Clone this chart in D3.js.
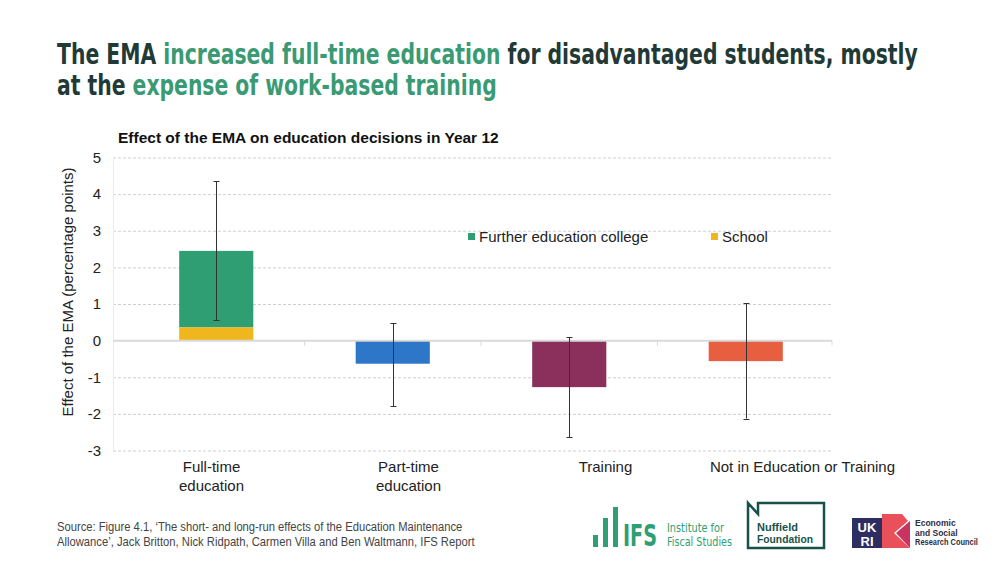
<!DOCTYPE html>
<html><head><meta charset="utf-8">
<script src="https://cdn.jsdelivr.net/npm/d3@7"></script>
<style>body{margin:0;background:#fff}svg{display:block}</style>
</head><body><svg id="c" width="1000" height="562"></svg>
<script>
const categories = ["Full-time education","Part-time education","Training","Not in Education or Training"];
const categoryLines = [["Full-time","education"],["Part-time","education"],["Training"],["Not in Education or Training"]];
const schoolValues = [0.36, 0, 0, 0];
const mainValues = [2.09, -0.63, -1.27, -0.56];
const errLow = [0.55, -1.79, -2.64, -2.13];
const errHigh = [4.35, 0.48, 0.10, 1.02];
const yTicks = [5,4,3,2,1,0,-1,-2,-3];
const legendLabels = ["Further education college","School"];
const barColors = ["#2f9e72","#2d76c8","#8b2f5d","#e85e40"];
const schoolColor = "#f0b61e";

const svg = d3.select("#c");
const y = d3.scaleLinear().domain([-3,5]).range([450.5,157.5]);
const xBar = d3.scaleBand().domain(categories).range([128,834]).paddingInner(0.58).paddingOuter(0.29);
const xLab = d3.scaleBand().domain(categories).range([113,901]);
const gridL = 113, gridR = 832;
const SANS = "'Liberation Sans',Arial,sans-serif";
const COND = "'DejaVu Sans Condensed','Liberation Sans',sans-serif";

function fit(sel, x, yb, width){
  const w = sel.node().getComputedTextLength();
  const k = Math.min(1, width / w);
  sel.attr("x",0).attr("y",0).attr("transform",`translate(${x},${yb}) scale(${k},1)`);
  return sel;
}

// Title
const t1 = svg.append("text").attr("font-family",COND).attr("font-size",28).attr("font-weight","bold");
[["The EMA ","#1f3a37"],["increased full-time education ","#3a9a73"],["for disadvantaged students, mostly","#1f3a37"]]
  .forEach(([s,c])=>t1.append("tspan").attr("fill",c).text(s));
fit(t1,57,64,861);
const t2 = svg.append("text").attr("font-family",COND).attr("font-size",28).attr("font-weight","bold");
[["at the ","#1f3a37"],["expense of work-based training","#3a9a73"]]
  .forEach(([s,c])=>t2.append("tspan").attr("fill",c).text(s));
fit(t2,57,95,440);

// chart title
svg.append("text").attr("x",118).attr("y",143).attr("font-family",SANS)
  .attr("font-size",15.5).attr("font-weight","bold").attr("fill","#111").text("Effect of the EMA on education decisions in Year 12");

// gridlines
svg.append("g").selectAll("line").data(yTicks.filter(d=>d!==0)).join("line")
  .attr("x1",gridL).attr("x2",gridR).attr("y1",d=>y(d)+0.5).attr("y2",d=>y(d)+0.5)
  .attr("stroke","#cfcfcf").attr("stroke-width",1).attr("stroke-dasharray","3,2");

// y axis
const yAxis = d3.axisLeft(y).tickValues(yTicks).tickSize(0).tickPadding(12).tickFormat(d=>String(d));
const ya = svg.append("g").attr("transform",`translate(${gridL},0)`).call(yAxis);
ya.select(".domain").attr("stroke","#ececec");
ya.selectAll("text").attr("font-family",SANS).attr("font-size",15).attr("fill","#222");

svg.append("text").attr("transform","translate(73,292) rotate(-90)").attr("text-anchor","middle")
  .attr("font-family",SANS).attr("font-size",15).attr("fill","#222")
  .text("Effect of the EMA (percentage points)");

// bars
const bw = xBar.bandwidth();
svg.append("g").selectAll("rect").data(categories).join("rect")
  .attr("x",d=>xBar(d)).attr("width",bw)
  .attr("y",(d,i)=> mainValues[i]>=0 ? y(schoolValues[i]+mainValues[i]) : y(0))
  .attr("height",(d,i)=> Math.abs(y(schoolValues[i]+mainValues[i]) - y(schoolValues[i])))
  .attr("fill",(d,i)=>barColors[i]);
svg.append("g").selectAll("rect").data(categories.filter((d,i)=>schoolValues[i]>0)).join("rect")
  .attr("x",d=>xBar(d)).attr("width",bw)
  .attr("y",d=>y(schoolValues[categories.indexOf(d)])).attr("height",d=>y(0)-y(schoolValues[categories.indexOf(d)]))
  .attr("fill",schoolColor);

// zero axis line + category boundary ticks
svg.append("line").attr("x1",gridL).attr("x2",gridR).attr("y1",y(0)).attr("y2",y(0)).attr("stroke","#d9d9d9").attr("stroke-width",2);
svg.append("g").selectAll("line").data(categories).join("line")
  .attr("x1",d=>Math.min(gridR,xBar(d)+bw/2+xBar.step()/2)).attr("x2",d=>Math.min(gridR,xBar(d)+bw/2+xBar.step()/2))
  .attr("y1",y(0)).attr("y2",y(0)+5).attr("stroke","#d9d9d9");

// error bars
const eg = svg.append("g").attr("stroke","#333").attr("stroke-width",1);
categories.forEach((d,i)=>{
  const cx = Math.round(xBar(d)+bw/2)+0.5;
  eg.append("line").attr("x1",cx).attr("x2",cx).attr("y1",y(errHigh[i])).attr("y2",y(errLow[i]));
  [errHigh[i],errLow[i]].forEach(v=>eg.append("line").attr("x1",cx-3).attr("x2",cx+3).attr("y1",Math.round(y(v))+0.5).attr("y2",Math.round(y(v))+0.5));
});

// x labels
const xl = svg.append("g").attr("font-family",SANS).attr("font-size",15).attr("fill","#222").attr("text-anchor","middle");
categories.forEach((d,i)=>{
  const tx = xl.append("text").attr("x",xLab(d)+xLab.bandwidth()/2).attr("y",472);
  categoryLines[i].forEach((l,j)=>tx.append("tspan").attr("x",xLab(d)+xLab.bandwidth()/2).attr("dy",j?19:0).text(l));
});

// legend
const lg = svg.append("g").attr("font-family",SANS).attr("font-size",15).attr("fill","#222");
[[468,legendLabels[0],barColors[0]],[711,legendLabels[1],schoolColor]].forEach(([lx,t,c])=>{
  lg.append("rect").attr("x",lx).attr("y",233).attr("width",7).attr("height",7).attr("fill",c);
  lg.append("text").attr("x",lx+11).attr("y",242).text(t);
});

// source
const s1 = svg.append("text").attr("font-family",SANS).attr("font-size",12.5).attr("fill","#444")
  .text("Source: Figure 4.1, \u2018The short- and long-run effects of the Education Maintenance");
fit(s1,57,531,406);
const s2 = svg.append("text").attr("font-family",SANS).attr("font-size",12.5).attr("fill","#444")
  .text("Allowance\u2019, Jack Britton, Nick Ridpath, Carmen Villa and Ben Waltmann, IFS Report");
fit(s2,57,546,418);

// IFS logo
const ifsG = "#2f9e72";
const logo = svg.append("g");
[[593,535],[603,518],[613,507]].forEach(([bx,by])=>logo.append("rect").attr("x",bx).attr("y",by).attr("width",5).attr("height",547-by).attr("fill",ifsG));
fit(logo.append("text").attr("font-family",COND).attr("font-weight","bold").attr("font-size",30).attr("fill",ifsG).text("IFS"),623,546,34);
fit(logo.append("text").attr("font-family",COND).attr("font-size",12).attr("fill",ifsG).text("Institute for"),667,531.5,57);
fit(logo.append("text").attr("font-family",COND).attr("font-size",12).attr("fill",ifsG).text("Fiscal Studies"),667,546,65);

// Nuffield
const nf = "#17524a";
logo.append("path").attr("d","M748,548 L748,503 L758,514 L758,503 L824,503 L824,548 Z")
  .attr("fill","none").attr("stroke",nf).attr("stroke-width",2.5).attr("stroke-linejoin","miter");
fit(logo.append("text").attr("font-family",SANS).attr("font-weight","bold").attr("font-size",11.5).attr("fill",nf).text("Nuffield"),757,531,41);
fit(logo.append("text").attr("font-family",SANS).attr("font-weight","bold").attr("font-size",11.5).attr("fill",nf).text("Foundation"),757,543,56);

// UKRI
logo.append("rect").attr("x",852).attr("y",518).attr("width",30).attr("height",30).attr("fill","#2e2d62");
logo.append("path").attr("d","M882,514 L902,514 L908,521 L894,533 L910,548 L882,548 Z").attr("fill","#e9505a");
logo.append("path").attr("d","M896,533 L910,521 L910,548 Z").attr("fill","#c8335f");
logo.append("text").attr("x",867).attr("y",532).attr("text-anchor","middle").attr("font-family",SANS).attr("font-weight","bold").attr("font-size",13).attr("fill","#fff").text("UK");
logo.append("text").attr("x",867).attr("y",546).attr("text-anchor","middle").attr("font-family",SANS).attr("font-weight","bold").attr("font-size",13).attr("fill","#fff").text("RI");
["Economic","and Social","Research Council"].forEach((t,i)=>{
  const tt = logo.append("text").attr("font-family",SANS).attr("font-weight","bold").attr("font-size",8.5).attr("fill","#2e2d45").text(t);
  fit(tt,915,526+i*9.5,63);
});
</script></body></html>
